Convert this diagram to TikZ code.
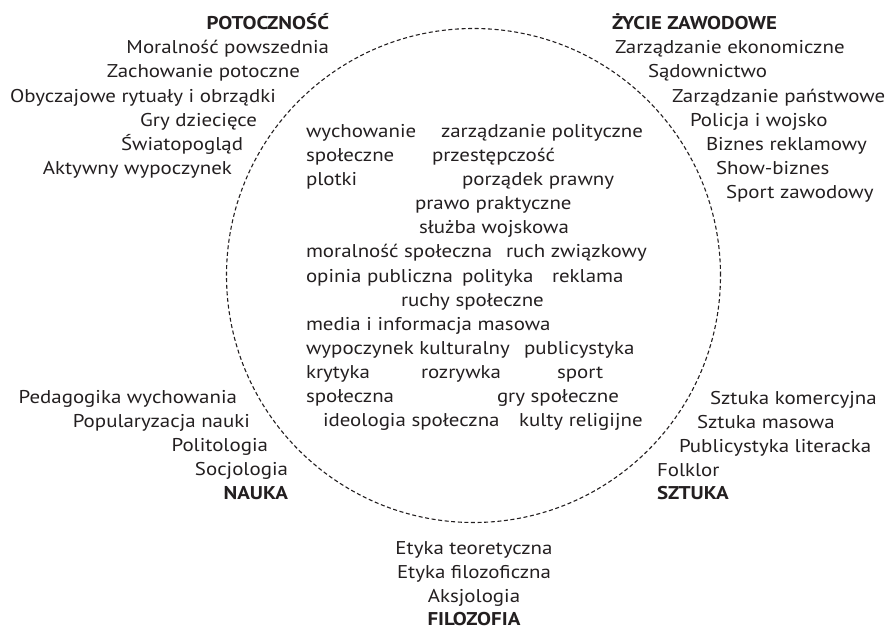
\documentclass[tikz,border=0pt]{standalone}
\usepackage{fontspec}
\setmainfont{PT Sans}[FakeStretch=1.13]
\begin{document}
\begin{tikzpicture}[x=1pt,y=-1pt,
  txt/.style={inner sep=0pt,outer sep=0pt,text=ink,font=\fontsize{18.5}{20}\selectfont},
  lt/.style={txt,anchor=base west},
  rt/.style={txt,anchor=base east},
  ct/.style={txt,anchor=base},
  hd/.style={font=\fontsize{18.5}{20}\selectfont\bfseries},
  ring/.style={draw=ink,line width=1.1pt,dash pattern=on 4pt off 2.6pt}]
\definecolor{ink}{HTML}{231F20}
\useasboundingbox (0,0) rectangle (889,629);
\node[ring,circle,minimum size=494pt,inner sep=0pt] (ring) at (473.5,275.5) {};
% top-left
\node[rt,hd] (pot) at (329,29.5) {POTOCZNOŚĆ};
\node[rt] (p1) at (329,53.7) {Moralność powszednia};
\node[rt] (p2) at (300,77.9) {Zachowanie potoczne};
\node[rt] (p3) at (276,102.1) {Obyczajowe rytuały i obrządki};
\node[rt] (p4) at (257,126.3) {Gry dziecięce};
\node[rt] (p5) at (243,150.5) {Światopogląd};
\node[rt] (p6) at (232,174.7) {Aktywny wypoczynek};
% top-right
\node[lt,hd] (zyc) at (612,29.5) {ŻYCIE ZAWODOWE};
\node[lt] (z1) at (615,53.7) {Zarządzanie ekonomiczne};
\node[lt] (z2) at (648,77.9) {Sądownictwo};
\node[lt] (z3) at (672,102.1) {Zarządzanie państwowe};
\node[lt] (z4) at (690,126.3) {Policja i wojsko};
\node[lt] (z5) at (706,150.5) {Biznes reklamowy};
\node[lt] (z6) at (716,174.7) {Show-biznes};
\node[lt] (z7) at (726,198.9) {Sport zawodowy};
% middle
\node[lt] (m01) at (306,137.3) {wychowanie};
\node[lt] (m02) at (441,137.3) {zarządzanie polityczne};
\node[lt] (m03) at (306,161.4) {społeczne};
\node[lt] (m04) at (432,161.4) {przestępczość};
\node[lt] (m05) at (306,185.5) {plotki};
\node[lt] (m06) at (462,185.5) {porządek prawny};
\node[lt] (m07) at (415,209.7) {prawo praktyczne};
\node[lt] (m08) at (419,233.8) {służba wojskowa};
\node[lt] (m09) at (306,257.9) {moralność społeczna};
\node[lt] (m10) at (506,257.9) {ruch związkowy};
\node[lt] (m11) at (306,282.0) {opinia publiczna};
\node[lt] (m12) at (462,282.0) {polityka};
\node[lt] (m13) at (552,282.0) {reklama};
\node[lt] (m14) at (401,306.1) {ruchy społeczne};
\node[lt] (m15) at (306,330.3) {media i informacja masowa};
\node[lt] (m16) at (306,354.4) {wypoczynek kulturalny};
\node[lt] (m17) at (524,354.4) {publicystyka};
\node[lt] (m18) at (306,378.5) {krytyka};
\node[lt] (m19) at (421,378.5) {rozrywka};
\node[lt] (m20) at (557,378.5) {sport};
\node[lt] (m21) at (306,402.6) {społeczna};
\node[lt] (m22) at (497,402.6) {gry społeczne};
\node[lt] (m23) at (323,426.7) {ideologia społeczna};
\node[lt] (m24) at (519,426.7) {kulty religijne};
% bottom-left
\node[rt] (n1) at (237,403.5) {Pedagogika wychowania};
\node[rt] (n2) at (250,427.5) {Popularyzacja nauki};
\node[rt] (n3) at (268,451.5) {Politologia};
\node[rt] (n4) at (288,475.5) {Socjologia};
\node[rt,hd] (nau) at (288,499.5) {NAUKA};
% bottom-right
\node[lt] (s1) at (710,404) {Sztuka komercyjna};
\node[lt] (s2) at (697,428) {Sztuka masowa};
\node[lt] (s3) at (679,452) {Publicystyka literacka};
\node[lt] (s4) at (657,476) {Folklor};
\node[lt,hd] (szt) at (657,499.5) {SZTUKA};
% bottom
\node[ct] (f1) at (474,554.5) {Etyka teoretyczna};
\node[ct] (f2) at (474,578.5) {Etyka filozoficzna};
\node[ct] (f3) at (474,602) {Aksjologia};
\node[ct,hd] (fil) at (474,625) {FILOZOFIA};
\end{tikzpicture}
\end{document}
